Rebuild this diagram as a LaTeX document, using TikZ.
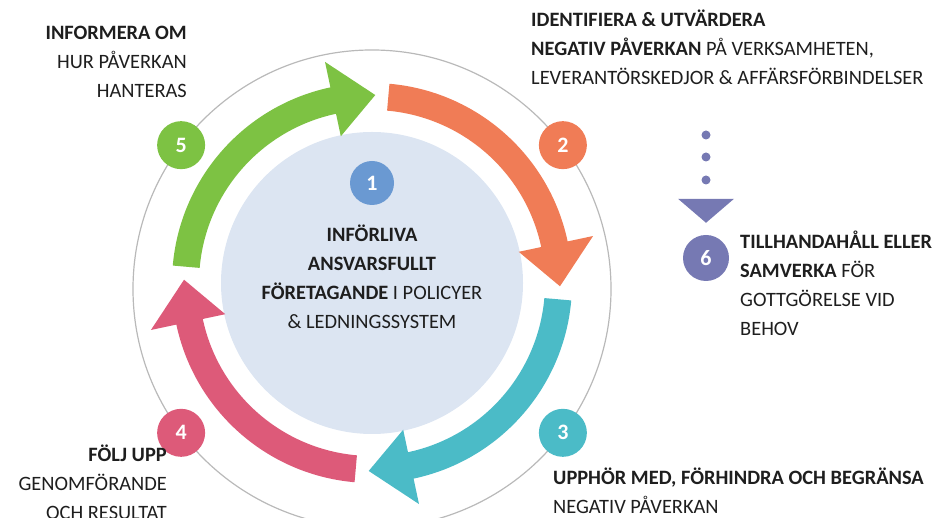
\documentclass[tikz,border=0pt]{standalone}
\usepackage{fontspec}
\setmainfont{Carlito}
\definecolor{cgreen}{HTML}{7DC243}
\definecolor{corange}{HTML}{F07C56}
\definecolor{ccyan}{HTML}{4BBBC7}
\definecolor{cpink}{HTML}{DD5A79}
\definecolor{cblue}{HTML}{6A99D2}
\definecolor{clight}{HTML}{DCE5F2}
\definecolor{cpurple}{HTML}{7679B3}
\definecolor{ctext}{HTML}{1E1E1E}
\tikzset{
  num/.style={circle, fill=#1, text=white, minimum size=48pt, inner sep=0pt,
    font=\fontsize{22}{22}\selectfont\bfseries},
  txt/.style={text=ctext, inner sep=0pt, font=\fontsize{20.4}{29}\selectfont},
}

\begin{document}
\begin{tikzpicture}[x=1pt,y=1pt]
    \useasboundingbox (0,0) rectangle (941,518);
    \draw[gray!55, line width=1.2pt] (372,229) circle (239);
    \fill[clight] (372,235) circle (151);
    % the four arrows round the ring
    \foreach \a/\c in {180/cgreen, 90/corange, 0/ccyan, -90/cpink}
    \fill[\c, shift={(372,235)}] ({\a-5}:200) arc[start angle={\a-5}, end angle={\a-78}, radius=200]
      -- ({\a-78}:226) -- ({\a-91}:188) -- ({\a-78}:150) -- ({\a-78}:173)
      arc[start angle={\a-78}, end angle={\a-5}, radius=173] -- cycle;
    \foreach \a/\n/\c in {143/5/cgreen, 37/2/corange, -37/3/ccyan, 217/4/cpink}
    \node[num=\c] (n\n) at ([shift={(372,229)}]\a:239) {\n};
    \node[num=cblue, minimum size=44pt] (n1) at (372,335) {1};
    % anchor base = last line
    \node[txt, anchor=base, align=center] (core) at (372,189.5)
      {\textbf{INFÖRLIVA}\\\textbf{ANSVARSFULLT}\\\textbf{FÖRETAGANDE} I POLICYER\\\& LEDNINGSSYSTEM};
    % step 6 off the ring
    \node[num=cpurple, minimum size=46pt] (n6) at (706,260) {6};
    \foreach \y in {383,361,338}
    \fill[cpurple] (706,\y) circle (4.5);
    \fill[cpurple] ([yshift=12pt]n6.north) -- ++(-28,24) -- ++(56,0) -- cycle;
    % texts
    \node[txt, anchor=base east, align=right] (t5) at (187,420.5)
      {\textbf{INFORMERA OM}\\HUR PÅVERKAN\\HANTERAS};
    \node[txt, anchor=base west, align=left] (t2) at (531,433.5)
      {\textbf{IDENTIFIERA \& UTVÄRDERA}\\\textbf{NEGATIV PÅVERKAN} PÅ VERKSAMHETEN,\\LEVERANTÖRSKEDJOR \& AFFÄRSFÖRBINDELSER};
    \node[txt, anchor=base west, align=left] (t6) at (740,182.5)
      {\textbf{TILLHANDAHÅLL ELLER}\\\textbf{SAMVERKA} FÖR\\GOTTGÖRELSE VID\\BEHOV};
    \node[txt, anchor=base east, align=right] (t4) at (167,-1.5)
      {\textbf{FÖLJ UPP}\\GENOMFÖRANDE\\OCH RESULTAT};
    \node[txt, anchor=base west, align=left] (t3) at (553,4.5)
      {\textbf{UPPHÖR MED, FÖRHINDRA OCH BEGRÄNSA}\\NEGATIV PÅVERKAN};
\end{tikzpicture}
\end{document}
